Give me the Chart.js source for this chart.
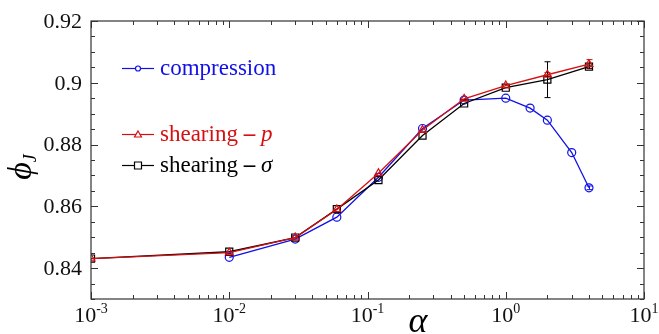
<!DOCTYPE html>
<html>
<head>
<meta charset="utf-8">
<script src="https://cdn.jsdelivr.net/npm/chart.js@4.4.1/dist/chart.umd.min.js"></script>
<style>
  html, body { margin: 0; padding: 0; background: #fff; }
  #wrap { width: 659px; height: 334px; }
</style>
</head>
<body>
<div id="wrap"><canvas id="phiChart" width="659" height="334"></canvas></div>
<script>
// packing fraction at jamming vs. alpha
const alphaComp = [0.01, 0.03, 0.06, 0.12, 0.25, 0.5, 1, 1.5, 2, 3, 4];
const phiComp = [0.8435, 0.8494, 0.8565, 0.8694, 0.8852, 0.8944, 0.895, 0.8918, 0.8879, 0.8774, 0.866];
const errComp = [0, 0, 0, 0, 0, 0, 0, 0, 0, 0, 0.0006];

const alphaShear = [0.001, 0.01, 0.03, 0.06, 0.12, 0.25, 0.5, 1, 2, 4];
const phiShearP = [0.8431, 0.845, 0.8499, 0.859, 0.8707, 0.8847, 0.8948, 0.8991, 0.9026, 0.906];
const errShearP = [0, 0, 0, 0, 0, 0, 0, 0, 0.0007, 0.0015];
const phiShearSigma = [0.8431, 0.8453, 0.8499, 0.8591, 0.8685, 0.8829, 0.8933, 0.8984, 0.901, 0.9052];
const errShearSigma = [0, 0, 0, 0, 0, 0, 0, 0, 0.0058, 0.0005];

const yMajorTicks = [0.84, 0.86, 0.88, 0.9, 0.92];
const yTickLabels = ['0.84', '0.86', '0.88', '0.9', '0.92'];
const xMajorTicks = [0.001, 0.01, 0.1, 1, 10];
const xTickExponents = ['-3', '-2', '-1', '0', '1'];

const BLUE = '#1010e8';
const RED = '#d41010';
const BLACK = '#000000';
const SERIF = '"Liberation Serif", "DejaVu Serif", serif';

function toPoints(xs, ys) {
    return xs.map((x, i) => ({ x: x, y: ys[i] }));
}

// frame, inward ticks, tick labels, axis titles, error bars and legend
const axesPlugin = {
    id: 'axesPlugin',
    beforeDatasetsDraw(chart) {
        const ctx = chart.ctx;
        const xs = chart.scales.x;
        const ys = chart.scales.y;
        const errs = [errComp, errShearP, errShearSigma];
        ctx.save();
        chart.data.datasets.forEach((ds, di) => {
            ctx.strokeStyle = ds.borderColor;
            ctx.lineWidth = 1;
            ds.data.forEach((p, i) => {
                const e = errs[di][i];
                if (!e) return;
                const px = Math.round(xs.getPixelForValue(p.x)) + 0.5;
                const y1 = ys.getPixelForValue(p.y + e);
                const y2 = ys.getPixelForValue(p.y - e);
                ctx.beginPath();
                ctx.moveTo(px, y1); ctx.lineTo(px, y2);
                ctx.moveTo(px - 3, y1); ctx.lineTo(px + 3, y1);
                ctx.moveTo(px - 3, y2); ctx.lineTo(px + 3, y2);
                ctx.stroke();
            });
        });
        ctx.restore();
    },
    afterDraw(chart) {
        const ctx = chart.ctx;
        const a = chart.chartArea;
        const xs = chart.scales.x;
        const ys = chart.scales.y;
        ctx.save();

        // frame
        ctx.strokeStyle = '#333';
        ctx.lineWidth = 1.2;
        ctx.strokeRect(a.left, a.top, a.right - a.left, a.bottom - a.top);

        // x ticks (log decades + minor 2..9)
        ctx.lineWidth = 1;
        for (let d = -3; d <= 1; d++) {
            for (let m = 1; m <= 9; m++) {
                const v = m * Math.pow(10, d);
                if (v > 10.0001) break;
                const px = Math.round(xs.getPixelForValue(v)) + 0.5;
                const len = m === 1 ? 7 : 4;
                ctx.beginPath();
                ctx.moveTo(px, a.bottom); ctx.lineTo(px, a.bottom - len);
                ctx.moveTo(px, a.top); ctx.lineTo(px, a.top + len);
                ctx.stroke();
            }
        }

        // y ticks, major every 0.02, minor every 0.005
        for (let k = 0; k <= 18; k++) {
            const v = 0.83 + k * 0.005;
            const py = Math.round(ys.getPixelForValue(v)) + 0.5;
            const major = (k % 4) === 2;
            const len = major ? 7 : 4;
            ctx.beginPath();
            ctx.moveTo(a.left, py); ctx.lineTo(a.left + len, py);
            ctx.moveTo(a.right, py); ctx.lineTo(a.right - len, py);
            ctx.stroke();
        }

        // y tick labels
        ctx.fillStyle = '#111';
        ctx.font = '22px ' + SERIF;
        ctx.textAlign = 'right';
        ctx.textBaseline = 'middle';
        yMajorTicks.forEach((v, i) => {
            ctx.fillText(yTickLabels[i], a.left - 9, ys.getPixelForValue(v) + 1);
        });

        // x tick labels: 10 with superscript exponent
        ctx.textBaseline = 'alphabetic';
        xMajorTicks.forEach((v, i) => {
            const px = xs.getPixelForValue(v);
            ctx.font = '22px ' + SERIF;
            const wBase = ctx.measureText('10').width;
            ctx.font = '14px ' + SERIF;
            const wExp = ctx.measureText(xTickExponents[i]).width;
            const left = px - (wBase + wExp) / 2;
            ctx.textAlign = 'left';
            ctx.font = '22px ' + SERIF;
            ctx.fillText('10', left, 322);
            ctx.font = '14px ' + SERIF;
            ctx.fillText(xTickExponents[i], left + wBase, 313);
        });

        // axis titles
        ctx.fillStyle = '#000';
        ctx.font = 'italic 36px ' + SERIF;
        ctx.textAlign = 'center';
        ctx.fillText('\u03b1', 418, 332);

        ctx.save();
        ctx.translate(22, 166);
        ctx.rotate(-Math.PI / 2);
        ctx.font = 'italic 34px ' + SERIF;
        ctx.textAlign = 'left';
        ctx.textBaseline = 'middle';
        const wPhi = ctx.measureText('\u03d5').width;
        ctx.fillText('\u03d5', -wPhi / 2 - 5, 0);
        ctx.font = 'italic 18px ' + SERIF;
        ctx.fillText('J', wPhi / 2 - 5, 9);
        ctx.restore();

        // legend
        const entries = [
            { y: 68, color: BLUE, style: 'circle', parts: [['compression', '']] },
            { y: 134, color: RED, style: 'triangle', parts: [['shearing ', ''], ['\u2013 ', 'bold '], ['p', 'italic ']] },
            { y: 165, color: BLACK, style: 'rect', parts: [['shearing ', ''], ['\u2013 ', 'bold '], ['\u03c3', 'italic ']] }
        ];
        entries.forEach(en => {
            ctx.strokeStyle = en.color;
            ctx.lineWidth = 1.2;
            ctx.beginPath();
            ctx.moveTo(122, en.y + 0.5); ctx.lineTo(154, en.y + 0.5);
            ctx.stroke();
            ctx.fillStyle = '#fff';
            ctx.beginPath();
            if (en.style === 'circle') {
                ctx.arc(138, en.y + 0.5, 2.5, 0, Math.PI * 2);
            } else if (en.style === 'triangle') {
                ctx.moveTo(138, en.y - 3); ctx.lineTo(141.5, en.y + 3); ctx.lineTo(134.5, en.y + 3); ctx.closePath();
            } else {
                ctx.rect(134.5, en.y - 3, 7, 7);
            }
            ctx.fill();
            ctx.stroke();

            let tx = 160;
            ctx.fillStyle = en.color;
            ctx.textAlign = 'left';
            ctx.textBaseline = 'middle';
            en.parts.forEach(([txt, style]) => {
                ctx.font = style + '23px ' + SERIF;
                ctx.fillText(txt, tx, en.y + 1);
                tx += ctx.measureText(txt).width;
            });
        });

        ctx.restore();
    }
};

new Chart(document.getElementById('phiChart'), {
    type: 'scatter',
    data: {
        datasets: [
            {
                label: 'compression',
                data: toPoints(alphaComp, phiComp),
                borderColor: BLUE,
                backgroundColor: 'rgba(0,0,0,0)',
                pointStyle: 'circle',
                pointRadius: 4,
                pointBorderWidth: 1.2,
                borderWidth: 1.3,
                showLine: true,
                order: 3
            },
            {
                label: 'shearing - p',
                data: toPoints(alphaShear, phiShearP),
                borderColor: RED,
                backgroundColor: 'rgba(0,0,0,0)',
                pointStyle: 'triangle',
                pointRadius: 4.5,
                pointBorderWidth: 1.2,
                borderWidth: 1.3,
                showLine: true,
                order: 1
            },
            {
                label: 'shearing - sigma',
                data: toPoints(alphaShear, phiShearSigma),
                borderColor: BLACK,
                backgroundColor: 'rgba(0,0,0,0)',
                pointStyle: 'rect',
                pointRadius: 5,
                pointBorderWidth: 1.2,
                borderWidth: 1.3,
                showLine: true,
                order: 2
            }
        ]
    },
    options: {
        responsive: false,
        animation: false,
        layout: { padding: { left: 91, right: 15, top: 21, bottom: 35 } },
        scales: {
            x: { type: 'logarithmic', min: 0.001, max: 10, display: false },
            y: { type: 'linear', min: 0.83, max: 0.92, display: false }
        },
        plugins: {
            legend: { display: false },
            tooltip: { enabled: false }
        }
    },
    plugins: [axesPlugin]
});
</script>
</body>
</html>
